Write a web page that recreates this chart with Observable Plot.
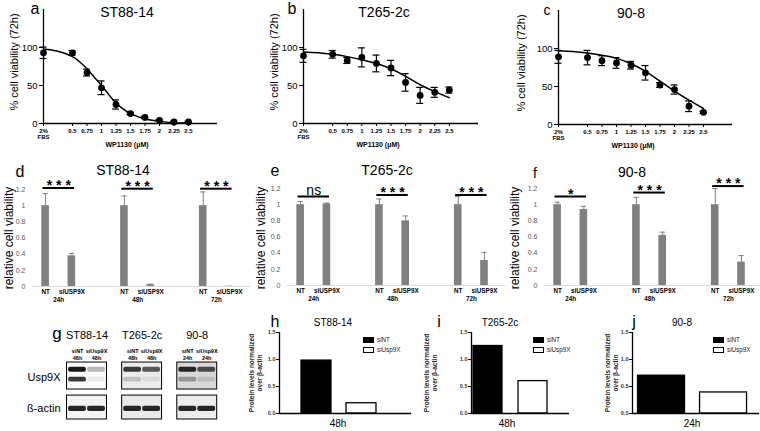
<!DOCTYPE html>
<html><head><meta charset="utf-8">
<script src="https://cdn.jsdelivr.net/npm/d3@7"></script>
<script src="https://cdn.jsdelivr.net/npm/@observablehq/plot@0.6"></script>
<style>
body{margin:0;background:#fff;}
#root{position:relative;width:760px;height:431px;overflow:hidden;background:#fff;font-family:"Liberation Sans",Arial,sans-serif;}
.t{position:absolute;white-space:pre;line-height:1.2;color:#000;text-align:center;}
</style></head><body><div id="root"></div>
<script>
// ---------- Row 1: dose response (72h) ----------
const doseTicks = [0, 0.5, 0.75, 1, 1.25, 1.5, 1.75, 2, 2.25, 2.5];
const doseTickLabels = ["2%\nFBS", "0.5", "0.75", "1", "1.25", "1.5", "1.75", "2", "2.25", "2.5"];
const st88Viability = [93, 93, 67, 47, 25, 13, 8, 4, 2, 2];
const st88ViabilityErr = [7.5, 3, 4.5, 9, 6, 1.5, 1.5, 1, 1, 1];
const st88FitX = [0, 0.25, 0.5, 0.625, 0.75, 0.875, 1, 1.125, 1.25, 1.375, 1.5, 1.75, 2, 2.25, 2.5];
const st88FitY = [98, 95, 88, 81, 72, 61, 50, 38, 27, 19, 13, 6, 3, 1, 1];
const t265Viability = [89, 91, 83, 87, 79, 73, 54, 37, 41, 44];
const t265ViabilityErr = [8.5, 5, 4, 12.5, 11, 10, 11.5, 10.5, 6.5, 4];
const t265FitX = [0, 0.25, 0.5, 0.75, 1, 1.25, 1.5, 1.75, 2, 2.25, 2.5];
const t265FitY = [94, 93, 91, 88, 84, 79, 72, 62, 51, 42, 34];
const n908Viability = [89, 88, 84, 81, 78, 68, 52, 46, 24, 16];
const n908ViabilityErr = [8.5, 9.5, 6.5, 7, 5, 9.5, 3, 6, 7, 1.5];
const n908FitX = [0, 0.25, 0.5, 0.75, 1, 1.25, 1.5, 1.75, 2, 2.25, 2.5];
const n908FitY = [97, 96, 94, 91, 87, 80, 70, 57, 44, 32, 21];

// ---------- Row 2: relative viability after siRNA ----------
const relTimes = ["24h", "48h", "72h"];
const relConds = ["NT", "siUSP9X"];
const st88RelNT = [1, 1, 1];
const st88RelSi = [0.38, 0.02, 0.004];
const st88RelErrNT = [0.15, 0.12, 0.17];
const st88RelErrSi = [0.03, 0.01, 0];
const st88Sig = ["* * *", "* * *", "* * *"];
const st88SigLevel = [1.22, 1.21, 1.21];
const t265RelNT = [1, 1, 1];
const t265RelSi = [1.01, 0.8, 0.31];
const t265RelErrNT = [0.04, 0.07, 0.1];
const t265RelErrSi = [0.01, 0.06, 0.1];
const t265Sig = ["ns", "* * *", "* * *"];
const t265SigLevel = [1.1, 1.12, 1.12];
const n908RelNT = [1, 1, 1];
const n908RelSi = [0.94, 0.62, 0.29];
const n908RelErrNT = [0.03, 0.09, 0.2];
const n908RelErrSi = [0.04, 0.04, 0.08];
const n908Sig = ["*", "* * *", "* * *"];
const n908SigLevel = [1.1, 1.15, 1.23];

// ---------- Row 3: western blot + quantification ----------
const blotLines = ["ST88-14", "T265-2c", "90-8"];
const blotLanes = ["siNT", "siUsp9X"];
const blotTimes = ["48h", "48h", "24h"];
const usp9xUpperBand = [[1.0, 0.3], [0.85, 0.7], [0.95, 0.75]];
const usp9xLowerBand = [[0.85, 0.08], [0.2, 0.08], [0.35, 0.14]];
const actinBand = [[0.95, 0.95], [0.95, 0.95], [0.95, 0.95]];
const blotBgUsp = ["#fbfbfb", "#ebebeb", "#d8d8d8"];
const blotBgActin = ["#f4f4f4", "#e9e9e9", "#ececec"];
const proteinConds = ["siNT", "siUsp9X"];
const st88Protein = [0.98, 0.19];
const t265Protein = [1.25, 0.6];
const n908Protein = [0.7, 0.39];
const proteinTimes = ["48h", "48h", "24h"];

// ---------- helpers ----------
const FONT = '"Liberation Sans", Arial, sans-serif';
const root = document.getElementById("root");
function put(node, left, top) {
  node.style.position = "absolute"; node.style.left = left + "px"; node.style.top = top + "px";
  root.appendChild(node);
}
function txt(s, x, y, size, o = {}) {
  const d = document.createElement("div");
  d.className = "t"; d.textContent = s;
  d.style.left = x + "px"; d.style.top = y + "px"; d.style.fontSize = size + "px";
  let tr = o.start ? "translate(0,-50%)" : "translate(-50%,-50%)";
  if (o.rotate) tr += " rotate(-90deg)";
  d.style.transform = tr;
  if (o.bold) d.style.fontWeight = "bold";
  if (o.color) d.style.color = o.color;
  if (o.lh) d.style.lineHeight = o.lh;
  root.appendChild(d);
}
const style = {fontFamily: FONT, background: "transparent", overflow: "visible"};

// ---------- Row 1 ----------
function doseChart(cfg) {
  const pts = doseTicks.map((x, i) => ({x, y: cfg.mean[i], lo: cfg.mean[i] - cfg.err[i], hi: cfg.mean[i] + cfg.err[i]}));
  const fit = cfg.fitX.map((x, i) => ({x, y: cfg.fitY[i]}));
  const lab = new Map(doseTicks.map((d, i) => [d, doseTickLabels[i]]));
  return Plot.plot({
    width: cfg.width, height: 155,
    marginLeft: cfg.ml, marginRight: cfg.mr, marginTop: cfg.mt, marginBottom: 155 - cfg.mt - 114,
    style,
    x: {domain: [0, 3]},
    y: {domain: [0, 150]},
    marks: [
      Plot.axisY({ticks: [0, 50, 100], tickSize: 4, tickPadding: 2, fontSize: 9.5, label: null, tickFormat: d => String(d)}),
      Plot.axisX({ticks: doseTicks, tickFormat: d => lab.get(d), tickSize: 3, tickPadding: 2, fontSize: 6, fontWeight: "bold", label: null}),
      Plot.ruleY([0], {strokeWidth: 1.3}),
      Plot.ruleX([0], {strokeWidth: 1.3}),
      Plot.line(fit, {x: "x", y: "y", curve: "natural", strokeWidth: 1.5}),
      Plot.ruleX(pts, {x: "x", y1: "lo", y2: "hi", strokeWidth: 1.2}),
      Plot.ruleY(pts, {y: "hi", x1: d => d.x - 0.06, x2: d => d.x + 0.06, strokeWidth: 1.2}),
      Plot.ruleY(pts, {y: "lo", x1: d => d.x - 0.06, x2: d => d.x + 0.06, strokeWidth: 1.2}),
      Plot.dot(pts, {x: "x", y: "y", r: 3.4, fill: "black", stroke: "none"})
    ]
  });
}
put(doseChart({width: 230, ml: 43, mr: 13, mt: 9, mean: st88Viability, err: st88ViabilityErr, fitX: st88FitX, fitY: st88FitY}), 0, 0);
put(doseChart({width: 235, ml: 48, mr: 12, mt: 9, mean: t265Viability, err: t265ViabilityErr, fitX: t265FitX, fitY: t265FitY}), 255, 0);
put(doseChart({width: 240, ml: 48, mr: 18, mt: 10, mean: n908Viability, err: n908ViabilityErr, fitX: n908FitX, fitY: n908FitY}), 510, 0);

txt("a", 35, 9, 16); txt("ST88-14", 127, 12, 14);
txt("b", 292, 9, 16); txt("T265-2c", 384, 12, 14);
txt("c", 547, 10, 14); txt("90-8", 631, 13, 14);
[[15, 62], [275, 62], [522, 63]].forEach(([x, y]) => txt("% cell viability (72h)", x, y, 11, {rotate: true}));
[[127, 145], [378, 145], [633, 146]].forEach(([x, y]) => txt("WP1130 (μM)", x, y, 7, {bold: true}));

// ---------- Row 2 ----------
function relChart(cfg) {
  const bars = [];
  relTimes.forEach((t, i) => {
    bars.push({pos: i * 3, cond: relConds[0], v: cfg.nt[i], e: cfg.ent[i]});
    bars.push({pos: i * 3 + 1, cond: relConds[1], v: cfg.si[i], e: cfg.esi[i]});
  });
  const sig = relTimes.map((t, i) => ({x1: i * 3, x2: i * 3 + 1, y: cfg.sigY[i], label: cfg.sig[i], ns: cfg.sig[i] === "ns"}));
  const groups = relTimes.map((t, i) => ({x: i * 3 + 0.5, t}));
  return Plot.plot({
    width: cfg.width, height: 160,
    marginLeft: 32, marginRight: cfg.width - 250, marginTop: 39, marginBottom: 24,
    style,
    x: {domain: [-0.5, 7.8]},
    y: {domain: [0, 1.2]},
    marks: [
      Plot.axisY({ticks: [0, 0.2, 0.4, 0.6, 0.8, 1, 1.2], tickFormat: d => String(+d.toFixed(1)), tickSize: 0, tickPadding: 7, fontSize: 7, fill: "#595959", label: null}),
      Plot.axisX({ticks: bars.map(d => d.pos), tickFormat: d => relConds[d % 3], tickSize: 0, tickPadding: 3, fontSize: 6.3, fontWeight: "bold", label: null}),
      Plot.text(groups, {x: "x", y: 0, text: "t", dy: 13, fontSize: 6.3, fontWeight: "bold", lineAnchor: "middle"}),
      Plot.ruleY([0], {stroke: "#d9d9d9", strokeWidth: 1}),
      Plot.rectY(bars, {x1: d => d.pos - 0.145, x2: d => d.pos + 0.145, y1: 0, y2: "v", fill: "#808080"}),
      Plot.ruleX(bars.filter(d => d.e > 0), {x: "pos", y1: "v", y2: d => d.v + d.e, stroke: "#808080", strokeWidth: 1}),
      Plot.ruleY(bars.filter(d => d.e > 0), {y: d => d.v + d.e, x1: d => d.pos - 0.1, x2: d => d.pos + 0.1, stroke: "#808080", strokeWidth: 1}),
      Plot.ruleY(sig, {y: "y", x1: d => d.x1 - 0.1, x2: d => d.x2 + 0.1, stroke: "black", strokeWidth: 2}),
      Plot.text(sig.filter(d => !d.ns), {x: d => (d.x1 + d.x2) / 2, y: "y", text: "label", fontSize: 14, fontWeight: "bold", dy: -2.5, lineAnchor: "middle"}),
      Plot.text(sig.filter(d => d.ns), {x: d => (d.x1 + d.x2) / 2, y: "y", text: "label", fontSize: 14, dy: -2, lineAnchor: "bottom"})
    ]
  });
}
put(relChart({width: 255, nt: st88RelNT, si: st88RelSi, ent: st88RelErrNT, esi: st88RelErrSi, sig: st88Sig, sigY: st88SigLevel}), 0, 150);
put(relChart({width: 255, nt: t265RelNT, si: t265RelSi, ent: t265RelErrNT, esi: t265RelErrSi, sig: t265Sig, sigY: t265SigLevel}), 255, 149);
put(relChart({width: 255, nt: n908RelNT, si: n908RelSi, ent: n908RelErrNT, esi: n908RelErrSi, sig: n908Sig, sigY: n908SigLevel}), 512, 149);

txt("d", 20, 172, 16); txt("ST88-14", 123, 170, 14);
txt("e", 275, 171, 16); txt("T265-2c", 387, 170, 14);
txt("f", 535, 173, 14); txt("90-8", 632, 172, 14);
[[9, 238], [261, 238], [515, 238]].forEach(([x, y]) => txt("relative cell viability", x, y, 12, {rotate: true}));

// ---------- Row 3: blot (g) ----------
(function () {
  const lanes = [], boxes = [];
  blotLines.forEach((name, c) => {
    boxes.push({c, x1: c * 2.9 - 0.55, x2: c * 2.9 + 1 + 0.55, name});
    blotLanes.forEach((ln, l) => lanes.push({c, l, x: c * 2.9 + l, lane: ln, time: blotTimes[c],
      up: usp9xUpperBand[c][l], low: usp9xLowerBand[c][l], act: actinBand[c][l]}));
  });
  const rowLabels = new Map([[1.67, "Usp9X"], [5.1, "ß-actin"]]);
  const svg = Plot.plot({
    width: 230, height: 100, marginLeft: 62, marginRight: 0, marginTop: 0, marginBottom: 0,
    style,
    x: {domain: [-0.789, 8.05], axis: null},
    y: {domain: [-3.78, 7.33], range: [0, 100]},
    marks: [
      Plot.axisY({ticks: [...rowLabels.keys()], tickFormat: d => rowLabels.get(d), tickSize: 0, tickPadding: 2, fontSize: 11, label: null}),
      Plot.rect(boxes, {x1: "x1", x2: "x2", y1: 0, y2: 3, fill: (d) => blotBgUsp[d.c], stroke: "black", strokeWidth: 1}),
      Plot.rect(boxes, {x1: "x1", x2: "x2", y1: 3.67, y2: 6.33, fill: (d) => blotBgActin[d.c], stroke: "black", strokeWidth: 1}),
      Plot.rect(lanes, {x1: d => d.x - 0.47, x2: d => d.x + 0.47, y1: 0.52, y2: 1.08, fill: "#1a1a1a", fillOpacity: "up", rx: 2}),
      Plot.rect(lanes, {x1: d => d.x - 0.47, x2: d => d.x + 0.47, y1: 1.65, y2: 2.15, fill: "#1a1a1a", fillOpacity: "low", rx: 2}),
      Plot.rect(lanes, {x1: d => d.x - 0.47, x2: d => d.x + 0.47, y1: 4.87, y2: 5.43, fill: "#1a1a1a", fillOpacity: "act", rx: 2}),
      Plot.text(boxes, {x: d => (d.x1 + d.x2) / 2, y: -3.0, text: "name", fontSize: 11, lineAnchor: "middle"}),
      Plot.text(lanes, {x: "x", y: -1.22, text: "lane", fontSize: 5.5, fontWeight: "bold", lineAnchor: "middle"}),
      Plot.text(lanes, {x: "x", y: -0.44, text: "time", fontSize: 5.5, fontWeight: "bold", lineAnchor: "middle"})
    ]
  });
  put(svg, 0, 328);
  txt("g", 57, 334, 17);
})();

// ---------- Row 3: quantification (h, i, j) ----------
function protChart(cfg) {
  const rows = proteinConds.map((c, i) => ({i, c, v: cfg.values[i]}));
  return Plot.plot({
    width: cfg.width, height: 112, marginLeft: 39, marginRight: cfg.mr, marginTop: 14, marginBottom: 17,
    style,
    x: {domain: cfg.xdom, axis: null},
    y: {domain: [0, 1.5]},
    marks: [
      Plot.axisY({ticks: [0, 0.5, 1, 1.5], tickFormat: d3.format(".1f"), tickSize: 3, tickPadding: 1, fontSize: 5.5, fontWeight: "bold", fill: "#333", label: null}),
      Plot.rectY(rows, {x1: d => d.i - cfg.hw, x2: d => d.i + cfg.hw, y1: 0, y2: "v", fill: d => d.i === 0 ? "black" : "white", stroke: "black", strokeWidth: 1.3}),
      Plot.ruleY([0], {strokeWidth: 1.3}),
      Plot.ruleX([cfg.xdom[0]], {strokeWidth: 1.3})
    ]
  });
}
put(protChart({width: 180, mr: 9, values: st88Protein, xdom: [-0.822, 2.111], hw: 0.333}), 240, 318);
put(protChart({width: 140, mr: 3, values: t265Protein, xdom: [-0.367, 1.811], hw: 0.322}), 432, 318);
put(protChart({width: 167, mr: 1, values: n908Protein, xdom: [-0.468, 1.58], hw: 0.379}), 593, 318);

txt("h", 275, 322, 16); txt("ST88-14", 333, 323, 10);
txt("i", 439, 322, 16); txt("T265-2c", 500, 323, 10);
txt("j", 634, 322, 16); txt("90-8", 682, 323, 10);
[[256, 373], [431, 373], [612, 373]].forEach(([x, y]) => txt("Protein levels normalized\nover β-actin", x, y, 6.5, {rotate: true, bold: true, lh: "1.2", color: "#222"}));
txt(proteinTimes[0], 338, 424, 10); txt(proteinTimes[1], 507, 424, 10); txt(proteinTimes[2], 692, 424, 10);

// legends
function legend(x, y) {
  proteinConds.forEach((c, i) => {
    const sw = document.createElement("div");
    sw.style.cssText = `position:absolute;left:${x}px;top:${y + i * 10 - 2.5}px;width:9px;height:4px;border:1px solid #000;background:${i === 0 ? "#000" : "#fff"}`;
    root.appendChild(sw);
    txt(c, x + 14, y + i * 10 + 0.5, 6.3, {start: true, color: "#222"});
  });
}
legend(363, 339); legend(533, 339); legend(713, 339);
</script></body></html>
